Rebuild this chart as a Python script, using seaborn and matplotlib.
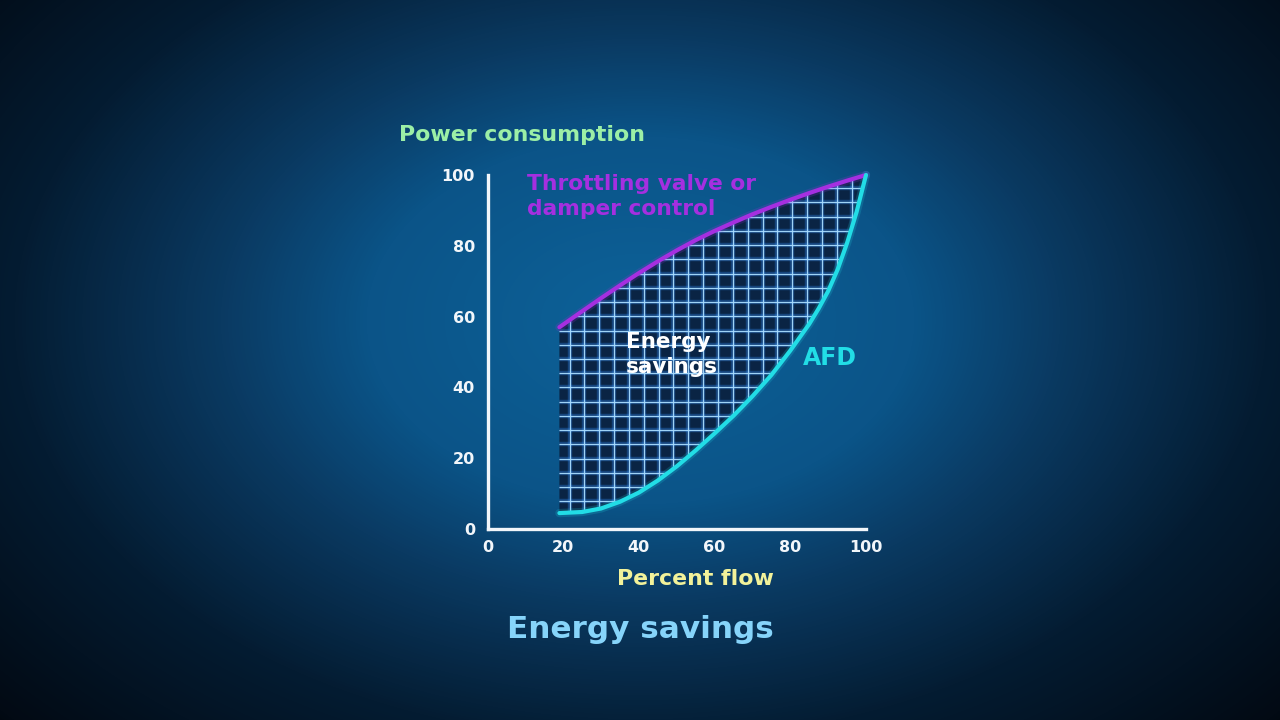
import numpy as np
import matplotlib
matplotlib.use("Agg")
import matplotlib.pyplot as plt
import seaborn as sns
from matplotlib.colors import LinearSegmentedColormap
from matplotlib.patches import Polygon

sns.set_theme(style="white")
plt.rcParams['font.family'] = ['DejaVu Sans']

# Values
throttle_flow = [19, 25, 30, 35, 40, 45, 50, 55, 60, 65, 70, 75, 80, 85, 90, 95, 100]
throttle_power = [57, 61.5, 65.2, 68.8, 72.3, 75.6, 78.7, 81.6, 84.2, 86.6, 88.9,
                  91.0, 93.0, 94.9, 96.7, 98.4, 100]
afd_flow = [19, 25, 30, 35, 40, 45, 50, 55, 60, 65, 70, 75, 80, 85, 87.5, 90,
            92.5, 95, 97.5, 100]
afd_power = [4.5, 4.8, 5.8, 7.7, 10.3, 13.7, 17.7, 22.2, 27.0, 32.0, 37.5, 43.5,
             50.4, 57.9, 62.3, 67.2, 73.3, 80.8, 89.5, 100]
tick_values = [0, 20, 40, 60, 80, 100]

BG_STOPS = [(0.0, '#0d6299'), (0.3, '#0b5488'), (0.46, '#0a3a62'),
            (0.69, '#041c32'), (0.95, '#020a14'), (1.0, '#010508')]
THROTTLE_COLOR = '#a52fe0'
AFD_COLOR = '#22dde6'
FILL_COLOR = '#0a2444'
GRID_COLOR = '#a8dcff'
AXIS_COLOR = '#f2f6fa'

fig = plt.figure(figsize=(12.8, 7.2), dpi=100)

# Radial background
bg = fig.add_axes([0, 0, 1, 1])
yy, xx = np.mgrid[0:720, 0:1280]
r = np.sqrt(((xx - 640) / 700.0) ** 2 + ((yy - 320) / 470.0) ** 2)
r = np.clip(r / 1.3, 0, 1)
cmap = LinearSegmentedColormap.from_list('bg', BG_STOPS)
bg.imshow(r, cmap=cmap, vmin=0, vmax=1, aspect='auto', extent=[0, 1, 0, 1])
bg.set_axis_off()

ax = fig.add_axes([487.5 / 1280, 1 - 529 / 720, 378.5 / 1280, 354 / 720])
ax.set_facecolor('none')
ax.set_xlim(0, 100)
ax.set_ylim(0, 100)

# Energy savings region with glowing grid
poly_x = list(throttle_flow) + list(afd_flow[::-1])
poly_y = list(throttle_power) + list(afd_power[::-1])
region = Polygon(np.column_stack([poly_x, poly_y]), closed=True,
                 facecolor=FILL_COLOR, edgecolor='none', zorder=2)
ax.add_patch(region)

grid_x = np.arange(21.7, 100, 3.92)
grid_y = np.arange(3.8, 100, 4.02)
for lw, alpha, col in [(3.2, 0.3, '#2f8fff'), (0.9, 0.95, GRID_COLOR)]:
    vl = ax.vlines(grid_x, 0, 100, colors=col, linewidth=lw, alpha=alpha, zorder=3)
    hl = ax.hlines(grid_y, 0, 100, colors=col, linewidth=lw, alpha=alpha, zorder=3)
    vl.set_clip_path(region)
    hl.set_clip_path(region)

# Curves with a soft glow
for col, xs, ys in [(THROTTLE_COLOR, throttle_flow, throttle_power),
                    (AFD_COLOR, afd_flow, afd_power)]:
    sns.lineplot(x=xs, y=ys, ax=ax, color=col, linewidth=6, alpha=0.18, zorder=4)
    sns.lineplot(x=xs, y=ys, ax=ax, color=col, linewidth=3, zorder=5)
for ln in ax.lines:
    ln.set_clip_on(False)
    ln.set_solid_capstyle('round')
    ln.set_solid_joinstyle('round')

# Axes styling
sns.despine(ax=ax)
for side in ['left', 'bottom']:
    ax.spines[side].set_color(AXIS_COLOR)
    ax.spines[side].set_linewidth(2.4)
    ax.spines[side].set_zorder(6)
ax.set_xticks(tick_values)
ax.set_yticks(tick_values)
ax.set_xticklabels([str(v) for v in tick_values], fontweight='bold')
ax.set_yticklabels([str(v) for v in tick_values], fontweight='bold')
ax.tick_params(axis='both', direction='in', length=9, width=2.2, color=AXIS_COLOR,
               labelcolor=AXIS_COLOR, labelsize=11.5)
ax.tick_params(axis='x', pad=8)
ax.tick_params(axis='y', pad=9)
ax.grid(False)

# Labels
ax.text(10.4, 94, 'Throttling valve or\ndamper control', color=THROTTLE_COLOR,
        fontsize=15.7, fontweight='bold', ha='left', va='center', linespacing=1.3, zorder=7)
ax.text(36.6, 49.4, 'Energy\nsavings', color='white', fontsize=15.5, fontweight='bold',
        ha='left', va='center', linespacing=1.3, zorder=7)
ax.text(90.5, 48.3, 'AFD', color=AFD_COLOR, fontsize=17, fontweight='bold',
        ha='center', va='center', zorder=7)

fig.text(399 / 1280, 1 - 135 / 720, 'Power consumption', color='#9cefa6',
         fontsize=15.8, fontweight='bold', ha='left', va='center')
fig.text(695 / 1280, 1 - 579 / 720, 'Percent flow', color='#f2f29a',
         fontsize=15.8, fontweight='bold', ha='center', va='center')
fig.text(640 / 1280, 1 - 630 / 720, 'Energy savings', color='#86d4fa',
         fontsize=22.4, fontweight='bold', ha='center', va='center')

fig.savefig('out.png', dpi=100)
